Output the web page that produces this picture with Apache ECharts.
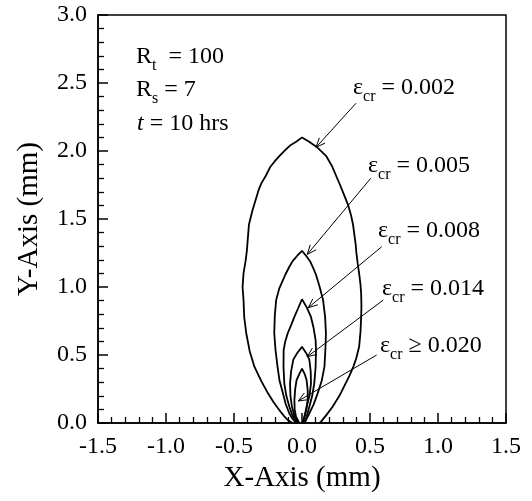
<!DOCTYPE html>
<html><head><meta charset="utf-8">
<script src="https://cdn.jsdelivr.net/npm/echarts@6/dist/echarts.min.js"></script>
<style>html,body{margin:0;padding:0;background:#fff}#c{width:532px;height:501px}</style>
</head><body><div id="c"></div>
<script>
// Contour curves (x mm, y mm) for each critical strain
const curve002 = [[-0.07,0.0],[-0.105,0.022],[-0.135,0.055],[-0.167,0.095],[-0.21,0.155],[-0.25,0.218],[-0.30,0.31],[-0.35,0.414],[-0.385,0.53],[-0.41,0.66],[-0.425,0.78],[-0.43,0.904],[-0.437,1.0],[-0.43,1.1],[-0.415,1.19],[-0.405,1.27],[-0.40,1.335],[-0.39,1.46],[-0.365,1.56],[-0.35,1.61],[-0.32,1.71],[-0.30,1.76],[-0.265,1.82],[-0.235,1.88],[-0.2,1.925],[-0.16,1.97],[-0.12,2.01],[-0.088,2.04],[-0.04,2.07],[0.0,2.10],[0.05,2.07],[0.108,2.03],[0.15,1.99],[0.18,1.96],[0.22,1.89],[0.25,1.82],[0.28,1.75],[0.31,1.676],[0.34,1.60],[0.36,1.53],[0.375,1.46],[0.385,1.385],[0.395,1.31],[0.40,1.25],[0.41,1.17],[0.42,1.10],[0.43,1.02],[0.435,0.95],[0.437,0.86],[0.435,0.78],[0.43,0.67],[0.42,0.56],[0.40,0.48],[0.38,0.42],[0.35,0.35],[0.32,0.29],[0.275,0.2],[0.225,0.12],[0.18,0.06],[0.14,0.01],[0.13,0.0]];
const curve005 = [[-0.04,0.0],[-0.07,0.03],[-0.093,0.07],[-0.12,0.14],[-0.14,0.218],[-0.165,0.31],[-0.18,0.414],[-0.195,0.54],[-0.204,0.66],[-0.2,0.79],[-0.19,0.904],[-0.167,0.99],[-0.145,1.04],[-0.123,1.09],[-0.095,1.145],[-0.069,1.19],[-0.035,1.23],[0.0,1.265],[0.03,1.23],[0.059,1.19],[0.082,1.14],[0.103,1.09],[0.13,1.0],[0.155,0.904],[0.17,0.78],[0.176,0.66],[0.172,0.54],[0.165,0.414],[0.145,0.31],[0.115,0.218],[0.085,0.135],[0.054,0.07],[0.03,0.025],[0.02,0.0]];
const curve008 = [[-0.04,0.0],[-0.07,0.055],[-0.093,0.12],[-0.115,0.2],[-0.13,0.29],[-0.136,0.41],[-0.135,0.537],[-0.123,0.6],[-0.105,0.66],[-0.08,0.72],[-0.056,0.78],[-0.03,0.84],[0.0,0.91],[0.035,0.85],[0.066,0.78],[0.085,0.7],[0.1,0.61],[0.103,0.537],[0.1,0.41],[0.09,0.29],[0.075,0.2],[0.054,0.12],[0.035,0.05],[0.02,0.0]];
const curve014 = [[-0.03,0.0],[-0.055,0.05],[-0.074,0.12],[-0.085,0.2],[-0.088,0.29],[-0.08,0.38],[-0.064,0.466],[-0.035,0.515],[0.0,0.56],[0.03,0.515],[0.054,0.466],[0.064,0.38],[0.066,0.29],[0.055,0.2],[0.034,0.12],[0.02,0.05],[0.01,0.0]];
const curve020 = [[-0.02,0.0],[-0.044,0.046],[-0.054,0.1],[-0.056,0.17],[-0.05,0.25],[-0.04,0.315],[-0.02,0.36],[0.0,0.40],[0.02,0.36],[0.034,0.315],[0.042,0.24],[0.042,0.17],[0.032,0.1],[0.017,0.046],[0.005,0.0]];

// Annotation arrows: [xStart, yStart, xTip, yTip]
const arrowData = [[0.397,2.351,0.103,2.027],[0.505,1.799,0.039,1.240],[0.586,1.296,0.046,0.848],[0.598,0.904,0.039,0.4875],[0.549,0.50,-0.027,0.162]];
const strainLabels = ['= 0.002','= 0.005','= 0.008','= 0.014','\u2265 0.020'];

const xMin = -1.5, xMax = 1.5, xStep = 0.5;
const yMin = 0, yMax = 3.0, yStep = 0.5;

const FF = '"Liberation Serif","Times New Roman",serif';
const chart = echarts.init(document.getElementById('c'), null, {renderer:'canvas'});

function lineSeries(d){
  return {type:'line', data:d, showSymbol:false, symbol:'none', smooth:false,
    lineStyle:{color:'#000', width:1.8}, silent:true, animation:false, z:3};
}
const rich = {
  m:{fontFamily:FF, fontSize:24, lineHeight:34, color:'#000'},
  s:{fontFamily:FF, fontSize:16, lineHeight:14, verticalAlign:'bottom', color:'#000'},
  i:{fontFamily:FF, fontSize:24, lineHeight:34, fontStyle:'italic', color:'#000'}
};
const labelPos = [[353,71],[368,148.3],[378,214],[382,272],[380,328.3]];
const graphics = [
  {type:'text', x:136, y:39.3, style:{text:'{m|R}{s|t}{m|  = 100}', rich:rich, verticalAlign:'top', align:'left'}},
  {type:'text', x:136, y:72.7, style:{text:'{m|R}{s|s}{m| = 7}', rich:rich, verticalAlign:'top', align:'left'}},
  {type:'text', x:137, y:107, style:{text:'{i|t}{m| = 10 hrs}', rich:rich, verticalAlign:'top', align:'left'}}
];
strainLabels.forEach((t,k)=>{
  graphics.push({type:'text', x:labelPos[k][0], y:labelPos[k][1],
    style:{text:'{m|\u03b5}{s|cr}{m| '+t+'}', rich:rich, verticalAlign:'top', align:'left'}});
});

const axisCommon = {
  type:'value',
  axisLine:{show:true, onZero:false, lineStyle:{color:'#000', width:1.5}},
  axisTick:{show:true, inside:true, length:10, lineStyle:{color:'#000', width:1.5}},
  minorTick:{show:true, splitNumber:5, length:6, lineStyle:{color:'#000', width:1.3}},
  splitLine:{show:false}, minorSplitLine:{show:false},
  axisLabel:{color:'#000', fontFamily:FF, fontSize:24, formatter:v=>v.toFixed(1), showMinLabel:true, showMaxLabel:true, hideOverlap:false},
  nameLocation:'middle',
  nameTextStyle:{color:'#000', fontFamily:FF, fontSize:29}
};

chart.setOption({
  animation:false,
  backgroundColor:'#fff',
  grid:{left:98, top:15, width:408, height:408, show:true, borderColor:'#000', borderWidth:1.5, backgroundColor:'transparent', containLabel:false},
  xAxis:Object.assign({}, axisCommon, {min:xMin, max:xMax, interval:xStep, name:'X-Axis (mm)', nameGap:40,
    axisLabel:Object.assign({}, axisCommon.axisLabel, {margin:12})}),
  yAxis:Object.assign({}, axisCommon, {min:yMin, max:yMax, interval:yStep, name:'Y-Axis (mm)', nameGap:54,
    axisLabel:Object.assign({}, axisCommon.axisLabel, {margin:11})}),
  series:[
    lineSeries(curve002), lineSeries(curve005), lineSeries(curve008), lineSeries(curve014), lineSeries(curve020),
    {type:'custom', data:arrowData, encode:{x:[0,2], y:[1,3]}, silent:true, animation:false, z:4,
      renderItem:function(params, api){
        const p0 = api.coord([api.value(0), api.value(1)]);
        const p1 = api.coord([api.value(2), api.value(3)]);
        const ang = Math.atan2(p1[1]-p0[1], p1[0]-p0[0]);
        const L = 10, a = 0.4;
        const h1 = [p1[0]-L*Math.cos(ang-a), p1[1]-L*Math.sin(ang-a)];
        const h2 = [p1[0]-L*Math.cos(ang+a), p1[1]-L*Math.sin(ang+a)];
        return {type:'group', children:[
          {type:'line', shape:{x1:p0[0],y1:p0[1],x2:p1[0],y2:p1[1]}, style:{stroke:'#000', lineWidth:1}},
          {type:'polyline', shape:{points:[h1,p1,h2]}, style:{stroke:'#000', fill:null, lineWidth:1}}
        ]};
      }}
  ],
  graphic:graphics
});
</script></body></html>
